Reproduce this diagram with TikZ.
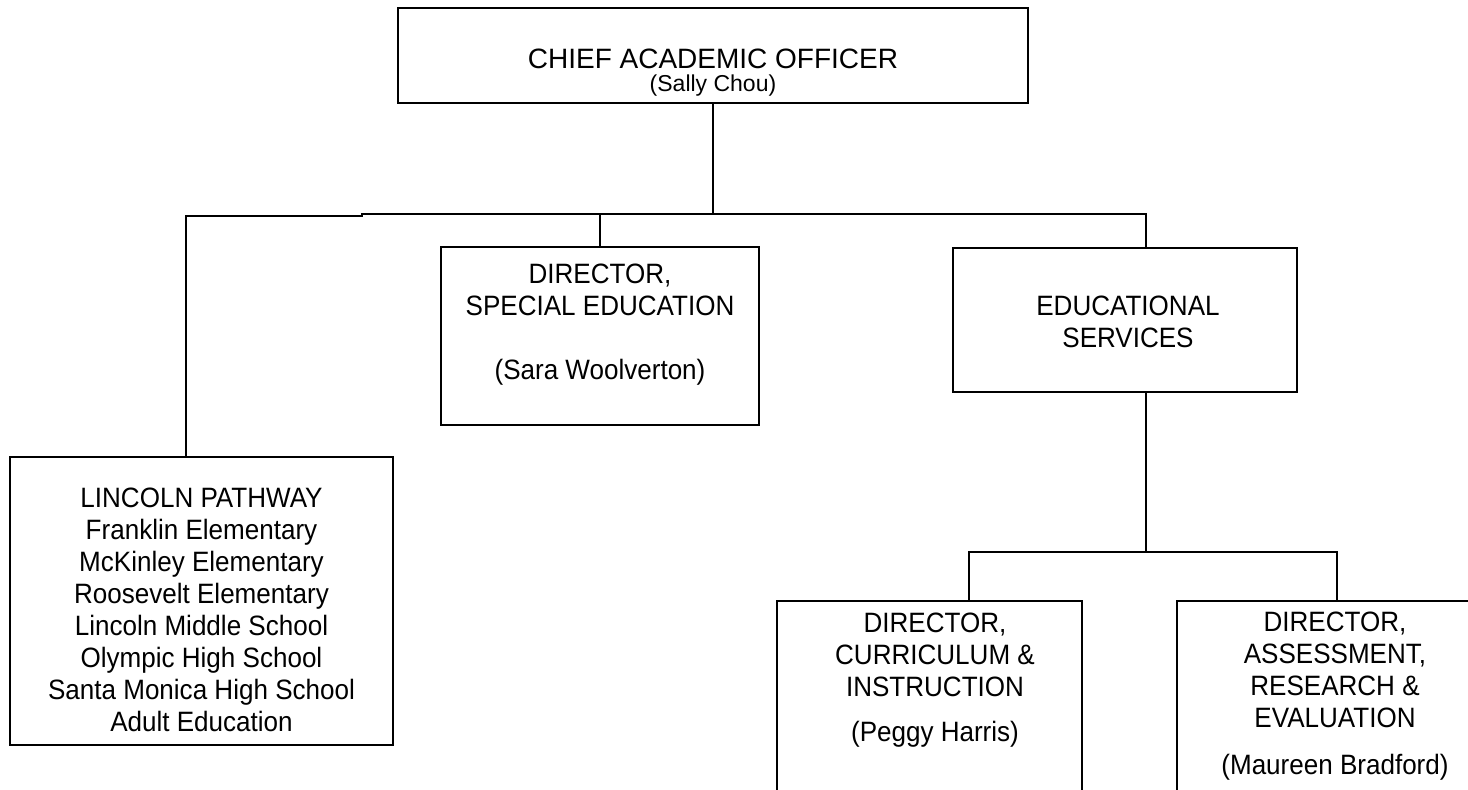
\documentclass[tikz,border=0pt]{standalone}
\usepackage{fontspec}
\setmainfont{Liberation Sans}
\newfontfamily\narrowf[FakeStretch=0.93]{Liberation Sans}
\usetikzlibrary{calc}
\begin{document}
\begin{tikzpicture}[x=0.5pt,y=-0.5pt,
  box/.style={draw, line width=1pt, rectangle, inner sep=0pt, outer sep=0pt},
  conn/.style={line width=1pt},
  txt/.style={align=center, inner sep=0pt, font=\narrowf\fontsize{14}{16}\selectfont},
  ]
\useasboundingbox (0,0) rectangle (1468,789);
\fill[white] (0,0) rectangle (1468,789);
\clip (0,0) rectangle (1468,789);

% boxes
\node[box, minimum width=315pt, minimum height=47.5pt] (ceo) at (713,55.5) {};
\node[box, minimum width=191.5pt, minimum height=144pt] (lin) at (201.5,601) {};
\node[box, minimum width=159pt, minimum height=89pt] (spec) at (600,336) {};
\node[box, minimum width=172pt, minimum height=72pt] (edu) at (1125,320) {};
\node[box, minimum width=152.5pt, minimum height=99.5pt] (cur) at (929.5,700.5) {};
\node[box, minimum width=160pt, minimum height=99.5pt] (ass) at (1337,700.5) {};

% texts
\node[txt, font=\rmfamily\fontsize{14}{16}\selectfont] (ceoT) at (713,58.5) {CHIEF ACADEMIC OFFICER};
\node[txt, font=\rmfamily\fontsize{11.5}{14}\selectfont] (ceoN) at (713,86) {(Sally Chou)};
\node[txt] (specT) at (600,325) {\strut DIRECTOR,\\SPECIAL EDUCATION\\[16pt](Sara Woolverton)\strut};
\node[txt] (eduT) at (1128,325.4) {\strut EDUCATIONAL\\SERVICES\strut};
\node[txt] (linT) at (201.5,613.4) {\strut LINCOLN PATHWAY\\Franklin Elementary\\McKinley Elementary\\Roosevelt Elementary\\Lincoln Middle School\\Olympic High School\\Santa Monica High School\\Adult Education\strut};
\node[txt] (curT) at (935,680.4) {\strut DIRECTOR,\\CURRICULUM \&\\INSTRUCTION\\[6.5pt](Peggy Harris)\strut};
\node[txt] (assT) at (1335,697) {\strut DIRECTOR,\\ASSESSMENT,\\RESEARCH \&\\EVALUATION\\[7.5pt](Maureen Bradford)\strut};

% connectors
\coordinate (bus) at (0,214);
\coordinate (bus2) at (0,552);
\draw[conn] (ceo.south) -- (ceo.south |- bus);
\draw[conn] ([xshift=-7.75pt]lin.north) |- (362,216) -- (362,214) -| ([xshift=10.5pt]edu.north);
\draw[conn] (spec.north) -- (spec.north |- bus);
\draw[conn] ([xshift=10.5pt]edu.south) -- ([xshift=10.5pt]edu.south |- bus2);
\draw[conn] ([xshift=19.75pt]cur.north) |- (bus2 -| ass.north) -- (ass.north);
\end{tikzpicture}
\end{document}
